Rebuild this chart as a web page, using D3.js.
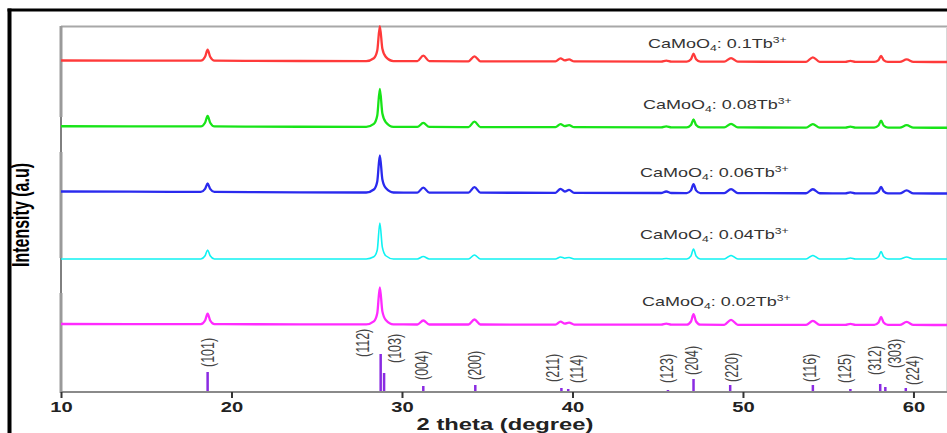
<!DOCTYPE html>
<html><head><meta charset="utf-8">
<script src="https://cdn.jsdelivr.net/npm/d3@7"></script>
<style>
html,body{margin:0;padding:0;background:#fff;}
svg{display:block;font-family:"Liberation Sans",Arial,sans-serif;}
</style></head>
<body><svg id="c" width="947" height="433"></svg>
<script>
// ---------- data ----------
const twoTheta = [10, 14, 18.2, 18.45, 18.6, 18.75, 19.0, 24, 27.9, 28.35, 28.55, 28.7, 28.85, 29.05, 29.5, 30.9, 31.25, 31.6, 33.9, 34.25, 34.6, 39.0, 39.3, 39.55, 39.8, 40.1, 45.2, 45.5, 45.8, 46.7, 46.95, 47.1, 47.25, 47.5, 48.9, 49.3, 49.7, 53.7, 54.1, 54.5, 56.0, 56.3, 56.6, 57.7, 57.95, 58.1, 58.25, 58.5, 59.2, 59.6, 60.0, 62];

const tb010 = [1.5, 1.4, 1.3, 5.2, 12.3, 5.2, 1.3, 1.0, 0.9, 3.7, 11.4, 35.9, 13.2, 5.1, 0.9, 0.8, 6.3, 0.8, 0.7, 5.7, 0.7, 0.6, 3.6, 1.6, 2.6, 0.6, 0.4, 1.4, 0.4, 0.35, 2.8, 8.35, 2.8, 0.35, 0.3, 3.8, 0.3, 0.2, 4.7, 0.2, 0.15, 1.15, 0.15, 0.1, 1.9, 6.1, 1.9, 0.1, 0.05, 2.55, 0.05, 0];
const tb008 = [1.5, 1.4, 1.3, 5.0, 11.8, 5.0, 1.3, 1.0, 0.9, 3.9, 12.3, 38.9, 14.2, 5.5, 0.9, 0.8, 4.8, 0.8, 0.7, 6.2, 0.7, 0.6, 3.6, 1.6, 2.6, 0.6, 0.4, 1.4, 0.4, 0.35, 2.8, 8.35, 2.8, 0.35, 0.3, 3.8, 0.3, 0.2, 3.7, 0.2, 0.15, 1.15, 0.15, 0.1, 2.2, 7.1, 2.2, 0.1, 0.05, 2.55, 0.05, 0];
const tb006 = [2.0, 1.8, 1.6, 4.6, 10.1, 4.6, 1.6, 1.2, 1.0, 4.0, 12.1, 38.0, 14.0, 5.4, 1.0, 0.9, 5.9, 0.9, 0.8, 6.3, 0.8, 0.7, 4.7, 2.0, 3.7, 0.7, 0.5, 2.0, 0.5, 0.4, 3.1, 9.4, 3.1, 0.4, 0.35, 4.35, 0.35, 0.25, 4.25, 0.25, 0.2, 1.2, 0.2, 0.1, 2.1, 6.6, 2.1, 0.1, 0.05, 3.05, 0.05, 0];
const tb004 = [0.3, 0.3, 0.3, 3.5, 9.3, 3.5, 0.3, 0.3, 0.3, 2.5, 9.3, 36.3, 11.8, 3.5, 0.3, 0.3, 2.8, 0.3, 0.3, 4.3, 0.3, 0.3, 2.3, 1.0, 1.8, 0.3, 0.3, 0.8, 0.3, 0.3, 3.3, 10.3, 3.3, 0.3, 0.3, 3.8, 0.3, 0.3, 3.8, 0.3, 0.3, 1.3, 0.3, 0.3, 2.5, 7.8, 2.5, 0.3, 0.3, 2.3, 0.3, 0.3];
const tb002 = [1.0, 0.9, 0.8, 4.5, 11.3, 4.5, 0.8, 0.7, 0.6, 3.6, 11.7, 37.6, 13.6, 5.0, 0.6, 0.5, 4.5, 0.5, 0.5, 5.5, 0.5, 0.4, 3.4, 1.4, 2.4, 0.4, 0.3, 1.3, 0.3, 0.3, 3.5, 10.8, 3.5, 0.3, 0.2, 5.2, 0.2, 0.2, 4.2, 0.2, 0.1, 1.1, 0.1, 0.1, 2.5, 8.1, 2.5, 0.1, 0.05, 3.05, 0.05, 0];

const seriesNames = ["0.02", "0.04", "0.06", "0.08", "0.1"];
const seriesValues = [tb002, tb004, tb006, tb008, tb010];

const stickPos = [18.6, 28.75, 28.95, 31.25, 34.3, 39.35, 39.75, 45.6, 47.1, 49.25, 54.1, 56.3, 58.05, 58.35, 59.55];
const stickInt = [20, 38, 19, 6, 7, 4, 3, 2, 13, 7, 7, 3, 8, 5, 4];

const hklLabels = ["(101)", "(112)", "(103)", "(004)", "(200)", "(211)", "(114)", "(123)", "(204)", "(220)", "(116)", "(125)", "(312)", "(303)", "(224)"];
const hklPos = [18.62, 27.71, 29.59, 31.17, 34.28, 38.86, 40.26, 45.54, 47.01, 49.36, 53.93, 55.98, 57.74, 58.91, 59.97];

const xTicks = [10, 20, 30, 40, 50, 60];

// ---------- layout / style ----------
const colors = {"0.02": "#ff2bff", "0.04": "#10f2f2", "0.06": "#2a2aee", "0.08": "#18e418", "0.1": "#ff3a3a"};
const widths = {"0.02": 2.3, "0.04": 1.6, "0.06": 2.3, "0.08": 2.3, "0.1": 2.3};
const labelLift = {"0.02": 19, "0.04": 20, "0.06": 16.5, "0.08": 19, "0.1": 14};
const labelX = {"0.02": 642, "0.04": 640, "0.06": 640, "0.08": 643, "0.1": 648};
const hklBottom = [367, 357, 363, 380, 380, 382, 383, 383, 375, 382, 382, 383, 375, 368, 385];
const SX = 1.44; // horizontal stretch of the original figure

const svg = d3.select("#c");
const axisY = 392;
const x = d3.scaleLinear().domain([10, 61.85]).range([61, 945]);
const yRow = d3.scalePoint().domain(seriesNames).range([325, 62]);
const yInt = d3.scaleLinear().domain([0, 40]).range([0, 40]);

// outer black frame
svg.append("line").attr("x1", 7.5).attr("x2", 947).attr("y1", 10).attr("y2", 10).attr("stroke", "#000").attr("stroke-width", 3);
svg.append("line").attr("x1", 9.5).attr("x2", 9.5).attr("y1", 8.5).attr("y2", 433).attr("stroke", "#000").attr("stroke-width", 4);

// plot box lines
svg.append("line").attr("x1", 61).attr("x2", 947).attr("y1", 26.5).attr("y2", 26.5).attr("stroke", "#a8a8a8").attr("stroke-width", 2);
svg.append("line").attr("x1", 946.5).attr("x2", 946.5).attr("y1", 27).attr("y2", axisY).attr("stroke", "#d8d8d8").attr("stroke-width", 1);
// left axis: gray segments with thin black gaps
svg.append("line").attr("x1", 61).attr("x2", 61).attr("y1", 26).attr("y2", axisY).attr("stroke", "#000").attr("stroke-width", 1);
[[26, 117], [152, 258], [293, 393]].forEach(s => {
  svg.append("line").attr("x1", 61).attr("x2", 61).attr("y1", s[0]).attr("y2", s[1]).attr("stroke", "#9a9a9a").attr("stroke-width", 3);
});

// x axis
const xAxis = d3.axisBottom(x).tickValues(xTicks).tickSize(6).tickSizeOuter(0).tickFormat(d3.format("d"));
const gx = svg.append("g").attr("transform", `translate(0,${axisY})`).call(xAxis);
gx.select(".domain").attr("stroke", "#8a8a8a").attr("stroke-width", 2).attr("d", `M61,0H947`);
gx.selectAll(".tick line").attr("stroke", "#333").attr("stroke-width", 2);
gx.selectAll(".tick text").attr("fill", "#222").attr("font-size", 14).attr("font-weight", "bold")
  .attr("font-family", "Liberation Sans, Arial, sans-serif").attr("y", 10)
  .attr("transform", `scale(${SX},1)`);

// axis titles
svg.append("text").attr("transform", `translate(505,430) scale(${SX},1)`).attr("text-anchor", "middle")
  .attr("font-size", 16.5).attr("font-weight", "bold").attr("fill", "#222").text("2 theta (degree)");
svg.append("text").attr("transform", `translate(29,215) scale(${SX},1) rotate(-90)`).attr("text-anchor", "middle")
  .attr("font-size", 16).attr("font-weight", "bold").attr("fill", "#000").text("Intensity (a.u)");

// traces
const line = d3.line().curve(d3.curveMonotoneX);
seriesNames.forEach((name, i) => {
  const vals = seriesValues[i];
  const pts = twoTheta.map((t, j) => [x(t), yRow(name) - yInt(vals[j])]);
  svg.append("path").attr("d", line(pts)).attr("fill", "none")
    .attr("stroke", colors[name]).attr("stroke-width", widths[name]).attr("stroke-linejoin", "round");
});

// series labels
seriesNames.forEach(name => {
  const t = svg.append("text")
    .attr("transform", `translate(${labelX[name]},${yRow(name) - labelLift[name]}) scale(${SX},1)`)
    .attr("font-size", 12.5).attr("fill", "#333");
  t.append("tspan").text("CaMoO");
  t.append("tspan").attr("font-size", 8.5).attr("dy", 3).text("4");
  t.append("tspan").attr("dy", -3).text(": " + name + "Tb");
  t.append("tspan").attr("font-size", 8.5).attr("dy", -5).text("3+");
});

// reference sticks
svg.append("g").selectAll("line").data(stickPos).join("line")
  .attr("x1", d => x(d)).attr("x2", d => x(d))
  .attr("y1", axisY - 1).attr("y2", (d, i) => axisY - yInt(stickInt[i]))
  .attr("stroke", "#8a2be2").attr("stroke-width", 2.5);

// hkl labels
svg.append("g").selectAll("text").data(hklLabels).join("text")
  .attr("transform", (d, i) => `translate(${x(hklPos[i])},${hklBottom[i]}) scale(${SX},1) rotate(-90)`)
  .attr("dy", "0.35em").attr("font-size", 12.5).attr("fill", "#444").text(d => d);
</script>
</body></html>
